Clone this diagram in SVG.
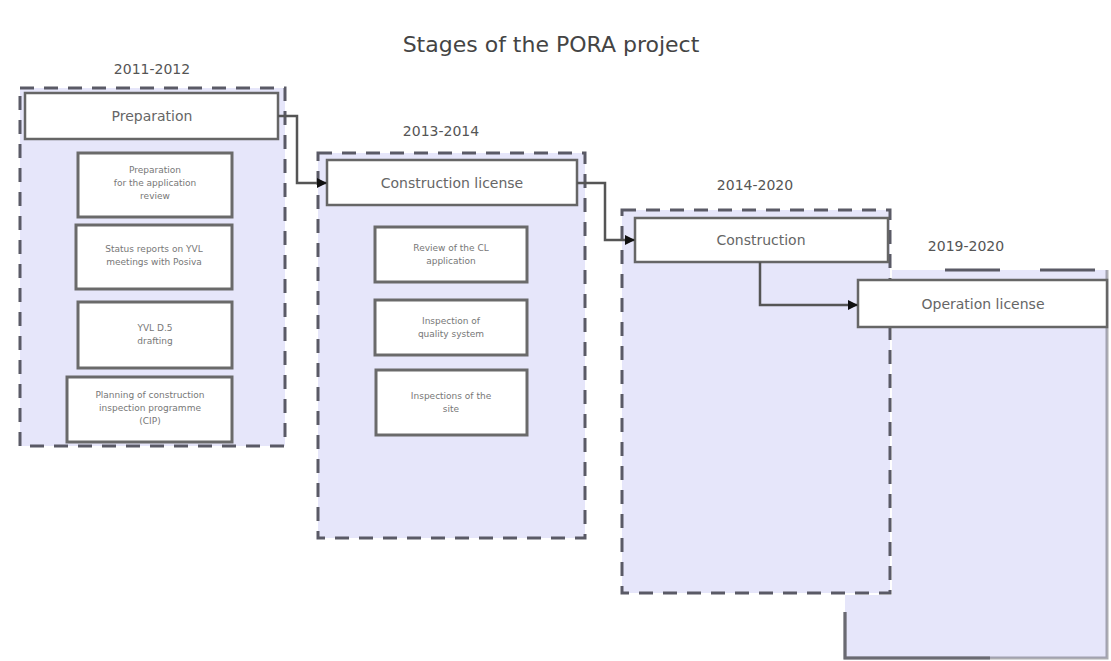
<svg xmlns="http://www.w3.org/2000/svg" width="1111" height="661" viewBox="0 0 1111 661">
  <style>
    text { font-family: "DejaVu Sans", "Liberation Sans", sans-serif; fill: #555; text-anchor: middle; }
    .title { font-size: 22px; fill: #444; }
    .year { font-size: 14px; fill: #555; }
    .head { font-size: 14px; fill: #666; }
    .item { font-size: 9px; fill: #777; }
    .stage { fill: #e6e6fa; stroke: #5a5a66; stroke-width: 3; stroke-dasharray: 14 10; }
    .stage-fill { fill: #e6e6fa; stroke: none; }
    .edge-long { fill: none; stroke: #5a5a66; stroke-width: 3; stroke-dasharray: 55 40; }
    .edge { fill: none; stroke: #6a6a72; stroke-width: 3; }
    .header { fill: #ffffff; stroke: #666; stroke-width: 2.5; }
    .task { fill: #ffffff; stroke: #6a6a6a; stroke-width: 3; }
    .link { fill: none; stroke: #555; stroke-width: 2.5; }
  </style>
  <defs>
    <marker id="arrow" viewBox="0 0 10 10" refX="9" refY="5" markerWidth="4" markerHeight="4" orient="auto">
      <path d="M0,0 L10,5 L0,10 z" fill="#111"/>
    </marker>
  </defs>

  <rect width="1111" height="661" fill="#ffffff"/>

  <text class="title" x="551" y="52">Stages of the PORA project</text>

  <!-- Stage 1: preparation -->
  <g id="stage-preparation">
    <rect class="stage" x="20" y="88" width="265" height="358"/>
    <text class="year" x="152" y="74">2011-2012</text>
    <rect class="header" x="25" y="93" width="253" height="46"/>
    <text class="head" x="152" y="121">Preparation</text>
    <g id="task-prep-1">
      <rect class="task" x="78" y="153" width="154" height="64"/>
      <text class="item" x="155" y="173">Preparation</text>
      <text class="item" x="155" y="186">for the application</text>
      <text class="item" x="155" y="199">review</text>
    </g>
    <g id="task-prep-2">
      <rect class="task" x="76" y="225" width="156" height="64"/>
      <text class="item" x="154" y="252">Status reports on YVL</text>
      <text class="item" x="154" y="265">meetings with Posiva</text>
    </g>
    <g id="task-prep-3">
      <rect class="task" x="78" y="302" width="154" height="66"/>
      <text class="item" x="155" y="331">YVL D.5</text>
      <text class="item" x="155" y="344">drafting</text>
    </g>
    <g id="task-prep-4">
      <rect class="task" x="67" y="377" width="165" height="65"/>
      <text class="item" x="150" y="398">Planning of construction</text>
      <text class="item" x="150" y="411">inspection programme</text>
      <text class="item" x="150" y="424">(CIP)</text>
    </g>
  </g>

  <!-- Stage 2: construction license -->
  <g id="stage-construction-license">
    <rect class="stage" x="318" y="153" width="267" height="385"/>
    <text class="year" x="441" y="136">2013-2014</text>
    <rect class="header" x="327" y="160" width="250" height="45"/>
    <text class="head" x="452" y="188">Construction license</text>
    <g id="task-cl-1">
      <rect class="task" x="375" y="227" width="152" height="55"/>
      <text class="item" x="451" y="251">Review of the CL</text>
      <text class="item" x="451" y="264">application</text>
    </g>
    <g id="task-cl-2">
      <rect class="task" x="375" y="300" width="152" height="55"/>
      <text class="item" x="451" y="324">Inspection of</text>
      <text class="item" x="451" y="337">quality system</text>
    </g>
    <g id="task-cl-3">
      <rect class="task" x="376" y="370" width="151" height="65"/>
      <text class="item" x="451" y="399">Inspections of the</text>
      <text class="item" x="451" y="412">site</text>
    </g>
  </g>

  <!-- Stage 3: construction -->
  <g id="stage-construction">
    <rect class="stage" x="622" y="210" width="268" height="383"/>
    <text class="year" x="755" y="190">2014-2020</text>
    <rect class="header" x="635" y="218" width="253" height="44"/>
    <text class="head" x="761" y="245">Construction</text>
  </g>

  <!-- Stage 4: operation license; its panel tucks in behind stage 3 -->
  <g id="stage-operation">
    <path class="stage-fill" d="M892,270 H1107 V658 H845 V595 H892 Z"/>
    <path class="edge-long" d="M945,270 H1107"/>
    <path class="edge" d="M1107,270 V658 H845 V612" stroke-opacity="0.55"/>
    <path class="edge" d="M845,612 V658 H990"/>
    <text class="year" x="966" y="251">2019-2020</text>
    <rect class="header" x="858" y="280" width="249" height="47"/>
    <text class="head" x="983" y="309">Operation license</text>
  </g>

  <!-- Connectors between stages -->
  <g id="connectors">
    <path class="link" d="M278,116 H297 V183 H326" marker-end="url(#arrow)"/>
    <path class="link" d="M577,183 H605 V240 H634" marker-end="url(#arrow)"/>
    <path class="link" d="M760,262 V305 H857" marker-end="url(#arrow)"/>
  </g>
</svg>
